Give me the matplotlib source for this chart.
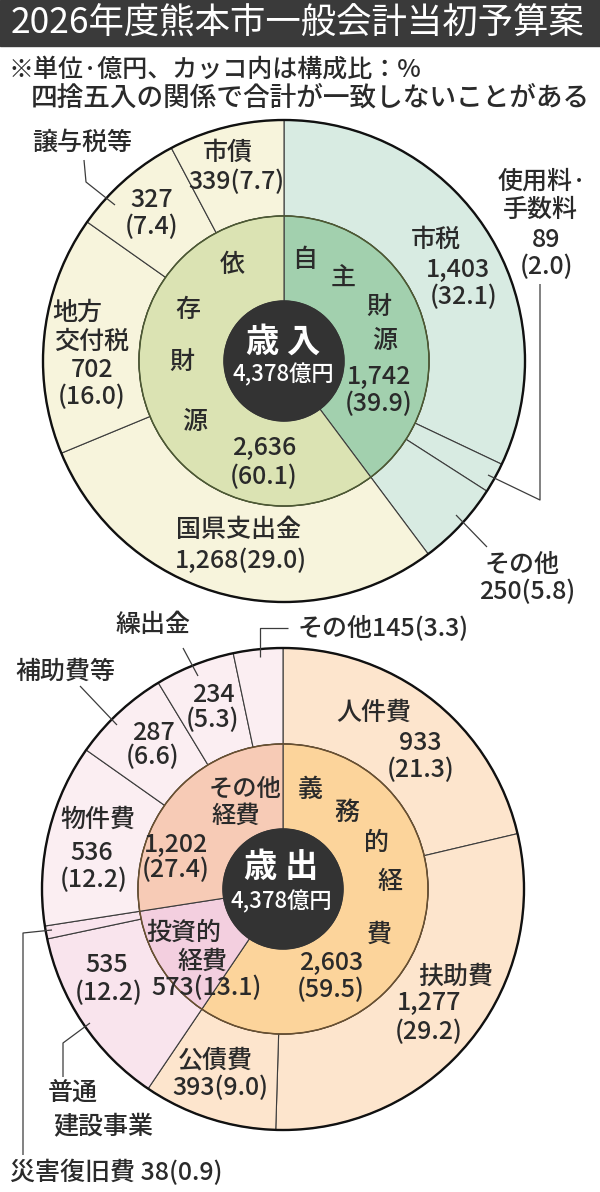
import matplotlib
matplotlib.use("Agg")
import matplotlib.pyplot as plt
from matplotlib.patches import Circle, Rectangle

plt.rcParams['font.family'] = ['Noto Sans CJK JP', 'DejaVu Sans']

# ---- data (億円 / %) ----
title = "2026年度熊本市一般会計当初予算案"
note1 = "※単位·億円、カッコ内は構成比：%"
note2 = "四捨五入の関係で合計が一致しないことがある"

rev_total = 4378
rev_inner_labels = ["自主財源", "依存財源"]
rev_inner_values = [1742, 2636]
rev_inner_pcts = [39.9, 60.1]
rev_outer_labels = ["市税", "使用料·\n手数料", "その他", "国県支出金", "地方\n交付税", "譲与税等", "市債"]
rev_outer_values = [1403, 89, 250, 1268, 702, 327, 339]
rev_outer_pcts = [32.1, 2.0, 5.8, 29.0, 16.0, 7.4, 7.7]

exp_total = 4378
exp_inner_labels = ["義務的経費", "投資的経費", "その他経費"]
exp_inner_values = [2603, 573, 1202]
exp_inner_pcts = [59.5, 13.1, 27.4]
exp_outer_labels = ["人件費", "扶助費", "公債費", "普通\n建設事業", "災害復旧費",
                    "物件費", "補助費等", "繰出金", "その他"]
exp_outer_values = [933, 1277, 393, 535, 38, 536, 287, 234, 145]
exp_outer_pcts = [21.3, 29.2, 9.0, 12.2, 0.9, 12.2, 6.6, 5.3, 3.3]

# ---- colours ----
rev_inner_colors = ["#a2d0ae", "#dbe3b3"]
rev_outer_colors = ["#d8ebe2"] * 3 + ["#f7f4dc"] * 4
exp_inner_colors = ["#fcd49b", "#f3cfdf", "#f7cbb6"]
exp_outer_colors = ["#fde5cd"] * 3 + ["#f9e4ed"] * 2 + ["#fbeef2"] * 4
TXT = "#2a2a2a"
LINE = "#3c3c3c"

W, H = 600, 1192
fig = plt.figure(figsize=(W / 100, H / 100), dpi=100)
ax = fig.add_axes([0, 0, 1, 1])


def put(x, y, s, size=18, color=TXT, ha="center", weight="medium"):
    ax.text(x, H - y, s, fontsize=size, color=color, ha=ha, va="center",
            fontweight=weight)


def leader(pts):
    ax.plot([p[0] for p in pts], [H - p[1] for p in pts], color=LINE, lw=0.9,
            solid_capstyle="butt")


def donut(cx, cy, inner_vals, inner_cols, outer_vals, outer_cols, ring_col):
    c = (cx, H - cy)
    ax.pie(outer_vals, colors=outer_cols, radius=241, center=c, startangle=90,
           counterclock=False,
           wedgeprops=dict(width=96, edgecolor=LINE, linewidth=0.8))
    ax.pie(inner_vals, colors=inner_cols, radius=145, center=c, startangle=90,
           counterclock=False,
           wedgeprops=dict(width=85, edgecolor=LINE, linewidth=0.8))
    ax.add_patch(Circle(c, 145, fill=False, edgecolor=ring_col, lw=1.1))
    ax.add_patch(Circle(c, 241, fill=False, edgecolor="#111111", lw=1.7))
    ax.add_patch(Circle(c, 60, facecolor="#333333", edgecolor="#333333"))


def seg_text(labels, values, pcts, layout):
    for i, tpl, x, y in layout:
        parts = labels[i].split("\n")
        s = tpl.format(n0=parts[0], n1=parts[-1],
                       v=f"{values[i]:,}", p=f"({pcts[i]:.1f})")
        put(x, y, s)


# ---- header ----
ax.add_patch(Rectangle((0, H - 46), W, 46, color="#3a3a3a"))
put(298, 24, title, size=25.5, color="white", weight="normal")
put(8, 70, note1, size=18, ha="left")
put(31, 98, note2, size=19.2, ha="left")

# ---- 歳入 ----
donut(284, 361, rev_inner_values, rev_inner_colors, rev_outer_values,
      rev_outer_colors, "#4d5a32")
seg_text(rev_outer_labels, rev_outer_values, rev_outer_pcts, [
    (0, "{n0}", 436, 240), (0, "{v}", 458, 270), (0, "{p}", 464, 297),
    (1, "{n0}", 542, 182), (1, "{n1}", 540, 210), (1, "{v}", 546, 240), (1, "{p}", 546, 267),
    (2, "{n0}", 522, 565), (2, "{v}{p}", 527, 592),
    (3, "{n0}", 238, 530), (3, "{v}{p}", 241, 561),
    (4, "{n0}", 77, 313), (4, "{n1}", 92, 342), (4, "{v}", 92, 370), (4, "{p}", 92, 397),
    (5, "{n0}", 82, 143), (5, "{v}", 152, 200), (5, "{p}", 152, 227),
    (6, "{n0}", 228, 153), (6, "{v}{p}", 236, 182),
])
for ch, (x, y) in zip(rev_inner_labels[0], [(305, 260), (343, 278), (379, 307), (385, 341)]):
    put(x, y, ch)
for ch, (x, y) in zip(rev_inner_labels[1], [(232, 265), (188, 310), (182, 362), (195, 422)]):
    put(x, y, ch)
put(379, 377, f"{rev_inner_values[0]:,}")
put(379, 404, f"({rev_inner_pcts[0]})")
put(264, 448, f"{rev_inner_values[1]:,}")
put(264, 477, f"({rev_inner_pcts[1]})")
put(283, 342, "歳 入", size=24, color="white", weight="bold")
put(283, 375, f"{rev_total:,}億円", size=16, color="white")
leader([(84, 160), (86, 182), (115, 205)])
leader([(540, 284), (540, 500), (488, 475)])
leader([(487, 547), (456, 515)])

# ---- 歳出 ----
donut(283, 889, exp_inner_values, exp_inner_colors, exp_outer_values,
      exp_outer_colors, "#6a5030")
seg_text(exp_outer_labels, exp_outer_values, exp_outer_pcts, [
    (0, "{n0}", 374, 713), (0, "{v}", 420, 743), (0, "{p}", 421, 770),
    (1, "{n0}", 456, 977), (1, "{v}", 429, 1003), (1, "{p}", 429, 1032),
    (2, "{n0}", 215, 1060), (2, "{v}{p}", 220, 1088),
    (3, "{v}", 107, 965), (3, "{p}", 109, 993),
    (3, "{n0}", 73, 1093), (3, "{n1}", 103, 1127),
    (5, "{n0}", 98, 820), (5, "{v}", 92, 853), (5, "{p}", 94, 880),
    (6, "{n0}", 65, 672), (6, "{v}", 153, 733), (6, "{p}", 153, 757),
    (7, "{n0}", 153, 625), (7, "{v}", 213, 695), (7, "{p}", 213, 720),
])
i = 4
put(10, 1173, f"{exp_outer_labels[i]} {exp_outer_values[i]}({exp_outer_pcts[i]})", ha="left")
i = 8
put(298, 628, f"{exp_outer_labels[i]}{exp_outer_values[i]}({exp_outer_pcts[i]})", ha="left")

for ch, (x, y) in zip(exp_inner_labels[0], [(310, 790), (347, 813), (377, 843), (390, 882), (379, 935)]):
    put(x, y, ch)
put(331, 963, f"{exp_inner_values[0]:,}")
put(331, 990, f"({exp_inner_pcts[0]})")
put(184, 933, exp_inner_labels[1][:3])
put(203, 962, exp_inner_labels[1][3:])
put(207, 988, f"{exp_inner_values[1]:,}({exp_inner_pcts[1]})")
put(245, 789, exp_inner_labels[2][:3], size=17.5)
put(236, 816, exp_inner_labels[2][3:], size=17.5)
put(176, 845, f"{exp_inner_values[2]:,}")
put(176, 870, f"({exp_inner_pcts[2]})")
put(281, 867, "歳 出", size=24, color="white", weight="bold")
put(281, 902, f"{exp_total:,}億円", size=16, color="white")
leader([(183, 648), (198, 676)])
leader([(80, 686), (117, 725)])
leader([(288, 628), (260, 628), (260, 657)])
leader([(63, 1077), (63, 1043), (90, 1023)])
leader([(23, 1155), (23, 933), (52, 930)])

ax.set_xlim(0, W)
ax.set_ylim(0, H)
ax.set_aspect("equal")
ax.axis("off")
fig.savefig("out.png", dpi=100, facecolor="white")
